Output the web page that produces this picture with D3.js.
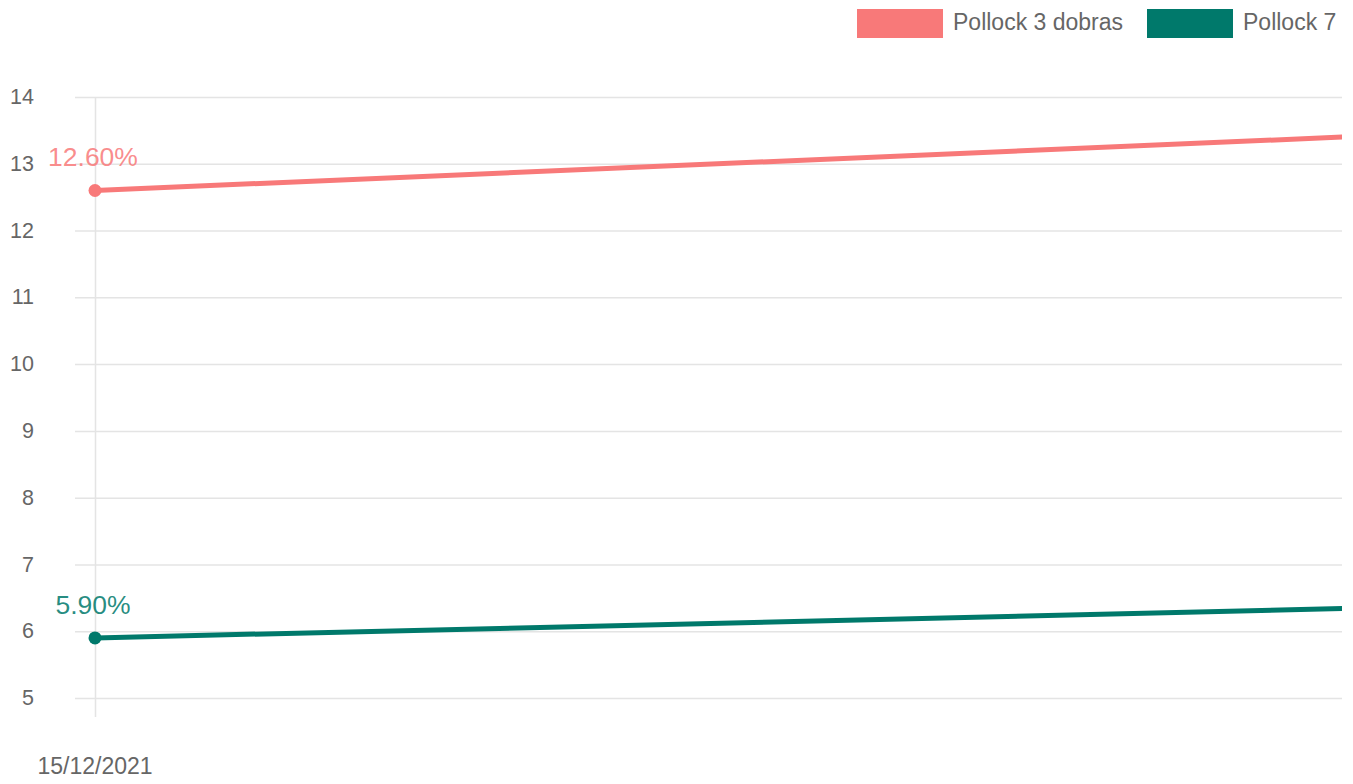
<!DOCTYPE html>
<html>
<head>
<meta charset="utf-8">
<script src="https://cdn.jsdelivr.net/npm/d3@7"></script>
<style>
  html, body { margin: 0; padding: 0; background: #fff; }
  svg { display: block; font-family: "Liberation Sans", Arial, Helvetica, sans-serif; }
</style>
</head>
<body>
<svg width="1353" height="784"></svg>
<script>
// data
var labels = ["15/12/2021", "15/01/2022"];
var seriesNames = ["Pollock 3 dobras", "Pollock 7"];
var pollock3 = [12.6, 13.6];
var pollock7 = [5.9, 6.45];
var colors = ["#f87979", "#00796b"];
var yTicks = [5, 6, 7, 8, 9, 10, 11, 12, 13, 14];

var series = [
  { name: seriesNames[0], values: pollock3, color: colors[0] },
  { name: seriesNames[1], values: pollock7, color: colors[1] }
];

var svg = d3.select("svg"),
    plot = { left: 75, right: 1342, top: 97, bottom: 698 };

// second point sits beyond the visible right edge, the chart is clipped there
var x = d3.scaleLinear().domain([0, 1]).range([95, 1655]),
    y = d3.scaleLinear().domain([5, 14]).range([plot.bottom, plot.top]);

svg.append("defs").append("clipPath")
    .attr("id", "clip")
    .append("rect")
    .attr("x", 0).attr("y", 0)
    .attr("width", plot.right).attr("height", 784);

// horizontal gridlines
svg.append("g")
    .attr("class", "grid")
    .selectAll("line")
    .data(yTicks)
    .enter().append("line")
    .attr("x1", plot.left)
    .attr("x2", plot.right)
    .attr("y1", function (d) { return y(d) + 0.5; })
    .attr("y2", function (d) { return y(d) + 0.5; })
    .attr("stroke", "#e4e4e4")
    .attr("stroke-width", 1.5);

// vertical gridline for the only visible category
svg.append("line")
    .attr("x1", x(0) + 0.5).attr("x2", x(0) + 0.5)
    .attr("y1", plot.top).attr("y2", plot.bottom + 19)
    .attr("stroke", "#e4e4e4")
    .attr("stroke-width", 1.5);

// y tick labels
svg.append("g")
    .selectAll("text")
    .data(yTicks)
    .enter().append("text")
    .attr("x", 34)
    .attr("y", function (d) { return y(d); })
    .attr("dy", "0.33em")
    .attr("text-anchor", "end")
    .attr("fill", "#666")
    .style("font-size", "21.5px")
    .text(function (d) { return d; });

// x tick label (only first is inside the view)
svg.append("text")
    .attr("x", x(0))
    .attr("y", 774)
    .attr("text-anchor", "middle")
    .attr("fill", "#666")
    .style("font-size", "23px")
    .text(labels[0]);

var line = d3.line()
    .x(function (d, i) { return x(i); })
    .y(function (d) { return y(d); });

var g = svg.append("g").attr("clip-path", "url(#clip)");

var s = g.selectAll(".series")
    .data(series)
    .enter().append("g")
    .attr("class", "series");

s.append("path")
    .attr("d", function (d) { return line(d.values); })
    .attr("fill", "none")
    .attr("stroke", function (d) { return d.color; })
    .attr("stroke-width", 5);

s.append("circle")
    .attr("cx", x(0))
    .attr("cy", function (d) { return y(d.values[0]); })
    .attr("r", 6.5)
    .attr("fill", function (d) { return d.color; });

s.append("text")
    .attr("x", x(0) - 2)
    .attr("y", function (d) { return y(d.values[0]) - 24; })
    .attr("text-anchor", "middle")
    .attr("fill", function (d) { return d.color; })
    .attr("fill-opacity", 0.85)
    .style("font-size", "26.5px")
    .text(function (d) { return d.values[0].toFixed(2) + "%"; });

// legend
var legendItems = [
  { box: 857, text: 953 },
  { box: 1147, text: 1243 }
];
var legend = svg.append("g")
    .selectAll("g")
    .data(series)
    .enter().append("g");

legend.append("rect")
    .attr("x", function (d, i) { return legendItems[i].box; })
    .attr("y", 9)
    .attr("width", 86)
    .attr("height", 29)
    .attr("fill", function (d) { return d.color; });

legend.append("text")
    .attr("x", function (d, i) { return legendItems[i].text; })
    .attr("y", 30)
    .attr("fill", "#666")
    .style("font-size", "23px")
    .text(function (d) { return d.name; });
</script>
</body>
</html>
